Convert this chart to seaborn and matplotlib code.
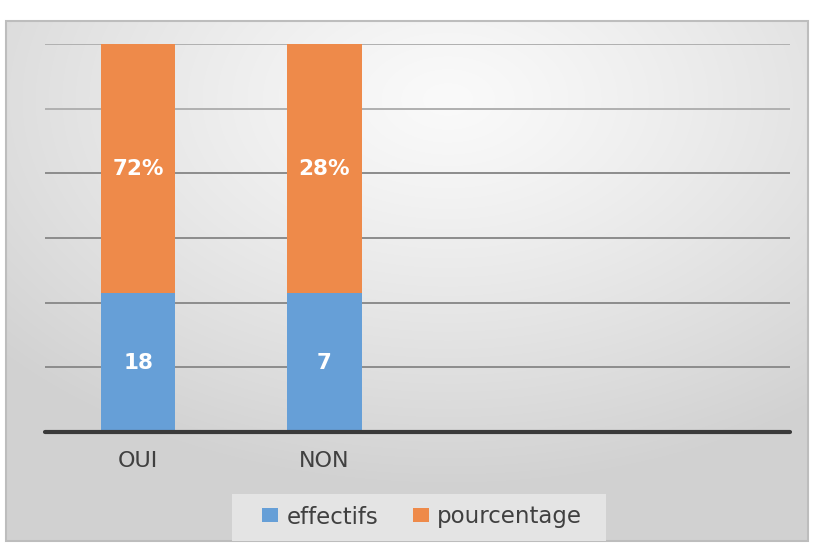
import numpy as np
import pandas as pd
import matplotlib
matplotlib.use("Agg")
import matplotlib.pyplot as plt
from matplotlib.patches import Rectangle, Patch
import seaborn as sns

# ---- data ----
categories = ["OUI", "NON"]
effectifs_labels = ["18", "7"]
pourcentage_labels = ["72%", "28%"]
# visual share of each stacked bar (100% stacked column)
share_effectifs = [0.358, 0.358]
share_pourcentage = [0.642, 0.642]
series_names = ["effectifs", "pourcentage"]

blue = "#669FD7"
orange = "#EE8A4A"

sns.set_theme(style="white")
plt.rcParams["font.family"] = ["DejaVu Sans"]

fig = plt.figure(figsize=(8.13, 5.47), dpi=100)

# background gradient for chart area
bg = fig.add_axes([0, 0, 1, 1], zorder=-10)
bg.set_axis_off()
bg.set_xlim(0, 813)
bg.set_ylim(547, 0)
H, W = 520, 802
yy, xx = np.mgrid[0:H, 0:W]
cx, cy = 0.55 * W, 0.15 * H
d = np.sqrt(((xx - cx) / W) ** 2 + ((yy - cy) / H) ** 2)
val = 0.98 - 0.16 * np.clip(d / 0.75, 0, 1) ** 1.2
img = np.dstack([val, val, val])
bg.imshow(img, extent=(6, 808, 541, 21), aspect="auto", zorder=0)
bg.add_patch(Rectangle((6, 21), 802, 520, fill=False, edgecolor="#bdbdbd", lw=1.5, zorder=1))

ax = fig.add_axes([45 / 813, 1 - 432 / 547, (790 - 45) / 813, (432 - 44) / 547])
ax.patch.set_alpha(0)

df = pd.DataFrame({
    "categorie": categories,
    "total": [a + b for a, b in zip(share_effectifs, share_pourcentage)],
    "effectifs": share_effectifs,
})

sns.barplot(data=df, x="categorie", y="total", order=categories, color=orange,
            width=0.4, saturation=1, ax=ax, zorder=3, edgecolor="none")
sns.barplot(data=df, x="categorie", y="effectifs", order=categories, color=blue,
            width=0.4, saturation=1, ax=ax, zorder=4, edgecolor="none")

ax.set_xlim(-0.5, 3.5)
ax.set_ylim(0, 1.0)
for k in range(1, 7):
    ax.axhline(k / 6, color="#b0b0b0" if k > 4 else "#8c8c8c", lw=1.4, zorder=1)
ax.axhline(0, color="#3a3a3a", lw=3, zorder=5, clip_on=False)

for i in range(len(categories)):
    ax.text(i, share_effectifs[i] / 2, effectifs_labels[i], ha="center", va="center",
            color="white", fontsize=15.5, fontweight="bold", zorder=6)
    ax.text(i, share_effectifs[i] + share_pourcentage[i] / 2, pourcentage_labels[i],
            ha="center", va="center", color="white", fontsize=15.5, fontweight="bold", zorder=6)

ax.set_xlabel("")
ax.set_ylabel("")
ax.set_yticks([])
ax.set_xticks(range(len(categories)))
ax.set_xticklabels(categories, fontsize=16, color="#404040")
ax.tick_params(axis="x", length=0, pad=14)
for s in ax.spines.values():
    s.set_visible(False)

# legend box
bg.add_patch(Rectangle((232, 494), 374, 47, facecolor="#e4e4e4", edgecolor="none", zorder=2))
handles = [Patch(facecolor=blue, edgecolor="none"), Patch(facecolor=orange, edgecolor="none")]
leg = fig.legend(handles, series_names, loc="center", bbox_to_anchor=(422 / 813, 1 - 517 / 547),
                 ncol=2, frameon=False, fontsize=16.5, handlelength=0.7, handleheight=0.56,
                 handletextpad=0.35, columnspacing=1.5, labelcolor="#404040")

fig.savefig("out.png", dpi=100)
